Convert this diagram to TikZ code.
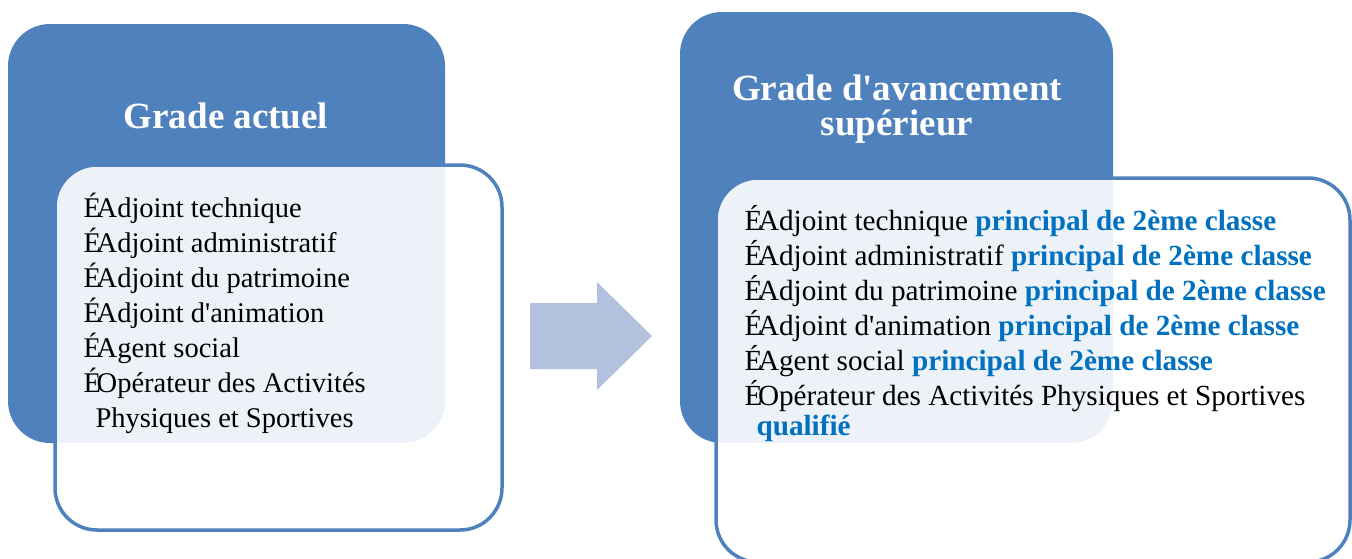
\documentclass[tikz,border=0pt]{standalone}
\usepackage{fontspec}
\setmainfont{Liberation Serif}
\definecolor{tabblue}{HTML}{4F81BD}
\definecolor{arrowblue}{HTML}{B2C1DD}
\definecolor{gradeblue}{HTML}{0070C0}
\newcommand{\puce}{É\kern-0.15em}
\begin{document}
\begin{tikzpicture}[x=1pt,y=-1pt,
  tab/.style={fill=tabblue,rounded corners=42pt},
  listbox/.style={draw=tabblue,line width=3.5pt,fill=white,fill opacity=0.9,rounded corners=42pt},
  head/.style={anchor=base,text=white,font=\fontsize{37}{37}\selectfont\bfseries},
  item/.style={anchor=base west,font=\fontsize{28.5}{35}\selectfont},
  itemwide/.style={item,font=\fontsize{29.2}{35}\selectfont}]
\useasboundingbox (0,0) rectangle (1352,558);
% tabs and list boxes
\fill[tab] (8,24) rectangle (445,443);
\draw[listbox] (55,165) rectangle (502,530);
\fill[tab] (680,12) rectangle (1113,443);
\draw[listbox] (716,178) rectangle (1350,562);
% arrow between the two
\fill[arrowblue] (530,303) -- (597,303) -- (597,282) -- (652,336) -- (597,390) -- (597,369) -- (530,369) -- cycle;
% headers
\node[head] (actuel) at (226,128) {Grade actuel};
\node[head] (avance) at (897,100) {Grade d\textquotesingle avancement};
\node[head] (avance-b) at (897,135) {supérieur};
% current grades
\foreach \txt [count=\i] in {Adjoint technique,Adjoint administratif,Adjoint du patrimoine,Adjoint d\textquotesingle animation,Agent social,Opérateur des Activités}
  \node[item] (actuel-\i) at (80,{182+35*\i}) {\puce\txt};
\node[item] (actuel-7) at (92,427) {Physiques et Sportives};
% upper grades
\foreach \txt/\grade [count=\i] in {Adjoint technique/principal de 2ème classe,Adjoint administratif/principal de 2ème classe,Adjoint du patrimoine/principal de 2ème classe,Adjoint d\textquotesingle animation/principal de 2ème classe,Agent social/principal de 2ème classe,Opérateur des Activités Physiques et Sportives/}
  \node[itemwide] (avance-\i) at (741,{195+35*\i}) {\puce\txt{} \textcolor{gradeblue}{\bfseries\grade}};
\node[itemwide,text=gradeblue] (avance-7) at (753,435) {\bfseries qualifié};
\end{tikzpicture}
\end{document}
